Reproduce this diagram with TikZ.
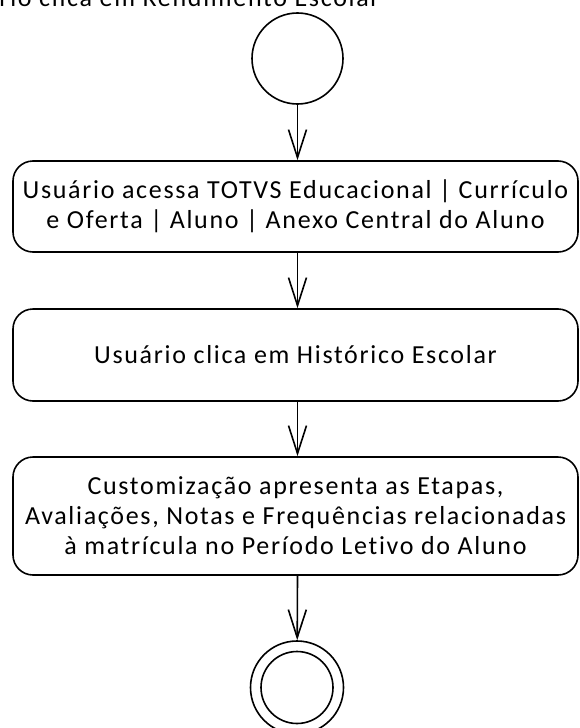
\documentclass[tikz,border=0pt]{standalone}
\usepackage{fontspec}
\setmainfont{Carlito}
\newfontfamily\largo[LetterSpace=6.5,Ligatures=NoCommon]{Carlito}
\usetikzlibrary{arrows.meta}

\def\boxwidth{282.5pt}
\def\corner{10pt}

\tikzset{
  texto/.style={font=\largo\fontsize{13pt}{15pt}\selectfont},
  passo/.style={texto, draw, line width=0.8pt, rounded corners=\corner,
    minimum width=\boxwidth, align=center, inner sep=0pt},
  inicio/.style={draw, circle, line width=0.8pt, minimum size=45.5pt, inner sep=0pt},
  fluxo/.style={line width=0.8pt, -{Straight Barb[length=14pt,width=9pt]}}
}

\begin{document}
\begin{tikzpicture}[x=0.5pt, y=-0.5pt]
 % page frame
 \useasboundingbox (0,0) rectangle (579,728);
 % text of the previous step, cut by the page edge
 \node[texto, anchor=base east, inner sep=0pt] (anterior) at (380,6)
  {Usuário clica em Rendimento Escolar};
 % Initial node
 \node[inicio] (inicio) at (297.5,58.5) {};
 % Actions
 \node[passo, minimum height=45.5pt] (acessa) at (295.5,206.5)
  {Usuário acessa TOTVS Educacional | Currículo\\e Oferta | Aluno | Anexo Central do Aluno};
 \node[passo, minimum height=46pt] (historico) at (295.5,355)
  {Usuário clica em Histórico Escolar};
 \node[passo, minimum height=59pt] (apresenta) at (295.5,516)
  {Customização apresenta as Etapas,\\Avaliações, Notas e Frequências relacionadas\\à matrícula no Período Letivo do Aluno};
 % Final node
 \node[inicio, minimum size=46.5pt] (fim) at (297,687.5) {};
 \draw[line width=0.8pt] (fim.center) circle (36);
 % Flow
 \draw[fluxo] (inicio) -- (inicio |- acessa.north);
 \draw[fluxo] (acessa.south -| inicio) -- (inicio |- historico.north);
 \draw[fluxo] (historico.south -| inicio) -- (inicio |- apresenta.north);
 \draw[fluxo] (apresenta.south -| inicio) -- (fim);
\end{tikzpicture}
\end{document}
